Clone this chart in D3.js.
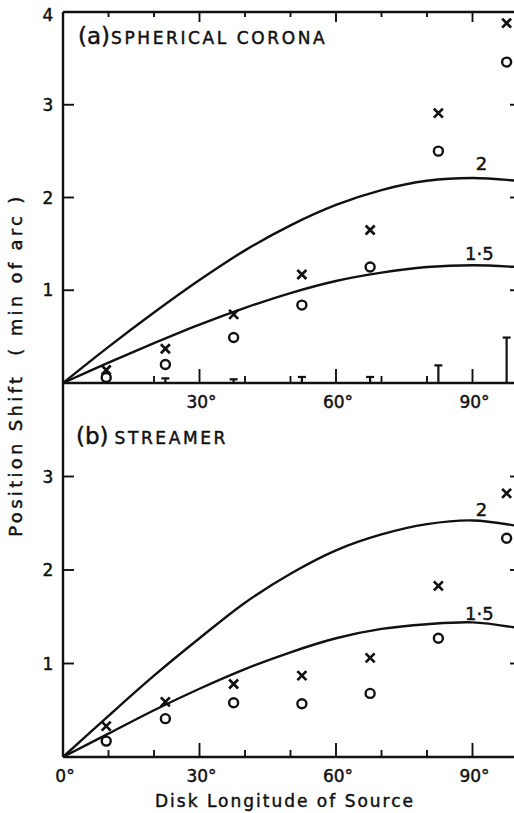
<!DOCTYPE html>
<html>
<head>
<meta charset="utf-8">
<script src="https://cdn.jsdelivr.net/npm/d3@7"></script>
<style>
  html, body { margin: 0; padding: 0; background: #fff; }
  svg { display: block; font-family: "DejaVu Sans", sans-serif; }
</style>
</head>
<body>
<svg id="chart" width="514" height="813"></svg>
<script>
// Observed source longitudes (degrees) and measured position shifts (min of arc)
const longitudes = [9.5, 22.5, 37.5, 52.5, 67.5, 82.5, 97.5];
const coronaCross = [0.14, 0.37, 0.74, 1.17, 1.65, 2.91, 3.88];
const coronaCircle = [0.06, 0.20, 0.49, 0.84, 1.25, 2.50, 3.46];
const coronaError = [0.03, 0.05, 0.04, 0.065, 0.065, 0.19, 0.49];
const streamerCross = [0.33, 0.59, 0.78, 0.87, 1.06, 1.83, 2.82];
const streamerCircle = [0.17, 0.41, 0.58, 0.57, 0.68, 1.27, 2.34];

// Model curves for the two density exponents
const curveLongitudes = [0, 10, 20, 30, 40, 50, 60, 70, 80, 90, 100];
const coronaModel2 = [0, 0.39, 0.76, 1.11, 1.43, 1.70, 1.92, 2.08, 2.18, 2.21, 2.18];
const coronaModel15 = [0, 0.22, 0.43, 0.63, 0.81, 0.97, 1.10, 1.19, 1.25, 1.27, 1.25];
const streamerModel2 = [0, 0.44, 0.87, 1.27, 1.65, 1.96, 2.21, 2.38, 2.49, 2.53, 2.47];
const streamerModel15 = [0, 0.25, 0.50, 0.73, 0.94, 1.12, 1.27, 1.37, 1.42, 1.44, 1.38];

const xTicks = [10, 20, 30, 40, 50, 60, 70, 80, 90];
const majorTicks = [30, 60, 90];
const yTicks = [1, 2, 3];

const svg = d3.select("#chart");
const ink = "#111";

const x = d3.scaleLinear().domain([0, 100]).range([63, 518]);

const panels = [
  { title: "SPHERICAL CORONA", tag: "(a)", y: d3.scaleLinear().domain([0, 4]).range([383, 12]),
    cross: coronaCross, circle: coronaCircle, error: coronaError,
    m2: coronaModel2, m15: coronaModel15, topFrame: true, labelZero: false },
  { title: "STREAMER", tag: "(b)", y: d3.scaleLinear().domain([0, 4]).range([757, 383]),
    cross: streamerCross, circle: streamerCircle, error: null,
    m2: streamerModel2, m15: streamerModel15, topFrame: false, labelZero: true }
];

// heavier lettering: fill plus a thin matching stroke
function lettering(sel) {
  return sel.attr("fill", ink).attr("stroke", ink).attr("stroke-width", 0.45);
}

panels.forEach((p, pi) => {
  const y = p.y;
  const g = svg.append("g");
  const y0 = y(0), yTop = y(4);

  // frame: left, bottom, right, top
  g.append("line").attr("x1", x(0)).attr("x2", x(0)).attr("y1", yTop).attr("y2", y0)
    .attr("stroke", ink).attr("stroke-width", 2.4);
  g.append("line").attr("x1", x(0)).attr("x2", x(100)).attr("y1", y0).attr("y2", y0)
    .attr("stroke", ink).attr("stroke-width", 2.4);
  g.append("line").attr("x1", x(100)).attr("x2", x(100)).attr("y1", yTop).attr("y2", y0)
    .attr("stroke", ink).attr("stroke-width", 2.4);
  if (p.topFrame) {
    g.append("line").attr("x1", x(0)).attr("x2", x(100)).attr("y1", yTop).attr("y2", yTop)
      .attr("stroke", ink).attr("stroke-width", 2.4);
    // downward ticks on the top frame
    g.selectAll(".tt").data(xTicks).enter().append("line")
      .attr("x1", d => x(d)).attr("x2", d => x(d))
      .attr("y1", yTop).attr("y2", d => yTop + (majorTicks.includes(d) ? 10 : 5))
      .attr("stroke", ink).attr("stroke-width", 1.9);
  }

  // upward ticks on the bottom axis
  g.selectAll(".bt").data(xTicks).enter().append("line")
    .attr("x1", d => x(d)).attr("x2", d => x(d))
    .attr("y1", y0).attr("y2", d => y0 - (majorTicks.includes(d) ? 14 : 7))
    .attr("stroke", ink).attr("stroke-width", 1.9);

  // x tick labels
  const xLabels = p.labelZero ? [0, 30, 60, 90] : [30, 60, 90];
  lettering(g.selectAll(".xl").data(xLabels).enter().append("text")
    .attr("x", d => x(d) + 2).attr("y", y0 + 25)
    .attr("text-anchor", "middle").attr("font-size", 17))
    .text(d => d + "°");

  // y ticks (left inward, right inward) and labels
  g.selectAll(".yl").data(yTicks).enter().append("line")
    .attr("x1", x(0)).attr("x2", x(0) + 11).attr("y1", d => y(d)).attr("y2", d => y(d))
    .attr("stroke", ink).attr("stroke-width", 1.9);
  g.selectAll(".yr").data(yTicks).enter().append("line")
    .attr("x1", x(100)).attr("x2", x(100) - 8).attr("y1", d => y(d)).attr("y2", d => y(d))
    .attr("stroke", ink).attr("stroke-width", 1.9);
  const yLabels = p.topFrame ? [1, 2, 3, 4] : yTicks;
  lettering(g.selectAll(".ytl").data(yLabels).enter().append("text")
    .attr("x", 48).attr("y", d => y(d) + 6 + (d === 4 ? 3 : 0))
    .attr("text-anchor", "middle").attr("font-size", 17))
    .text(d => d);

  // model curves
  const line = d3.line().x((d, i) => x(curveLongitudes[i])).y(d => y(d)).curve(d3.curveCatmullRom);
  [p.m2, p.m15].forEach(m => {
    g.append("path").attr("d", line(m)).attr("fill", "none")
      .attr("stroke", ink).attr("stroke-width", 2.4);
  });
  const peak2 = d3.max(p.m2), peak15 = d3.max(p.m15);
  lettering(g.append("text").attr("x", x(92)).attr("y", y(peak2) - (pi === 0 ? 8 : 4))
    .attr("text-anchor", "middle").attr("font-size", 18)).text("2");
  lettering(g.append("text").attr("x", x(91.5)).attr("y", y(peak15) - (pi === 0 ? 5 : 2))
    .attr("text-anchor", "middle").attr("font-size", 18)).text("1·5");

  // error bars rising from the baseline
  if (p.error) {
    longitudes.forEach((lon, i) => {
      const cx = x(lon), top = y(p.error[i]);
      g.append("line").attr("x1", cx).attr("x2", cx).attr("y1", y0).attr("y2", top)
        .attr("stroke", ink).attr("stroke-width", 2.2);
      g.append("line").attr("x1", cx - 4).attr("x2", cx + 4).attr("y1", top).attr("y2", top)
        .attr("stroke", ink).attr("stroke-width", 2.2);
    });
  }

  // circle markers
  g.selectAll(".circ").data(p.circle).enter().append("circle")
    .attr("cx", (d, i) => x(longitudes[i])).attr("cy", d => y(d)).attr("r", 4.5)
    .attr("fill", "#fff").attr("stroke", ink).attr("stroke-width", 2.4);

  // cross markers
  const s = 4.5;
  p.cross.forEach((v, i) => {
    const cx = x(longitudes[i]), cy = y(v);
    g.append("path")
      .attr("d", `M${cx - s},${cy - s}L${cx + s},${cy + s}M${cx - s},${cy + s}L${cx + s},${cy - s}`)
      .attr("stroke", ink).attr("stroke-width", 2.7).attr("fill", "none");
  });

  // panel title
  const t = lettering(g.append("text").attr("x", pi === 0 ? 78 : 76).attr("y", pi === 0 ? 44 : y(4) + 61));
  t.append("tspan").attr("font-size", 23).text(p.tag);
  t.append("tspan").attr("font-size", 17).attr("letter-spacing", 2.6)
    .attr("dx", pi === 0 ? 1 : 6).text(p.title);
});

// axis titles
lettering(svg.append("text").attr("x", 285).attr("y", 807)
  .attr("text-anchor", "middle").attr("font-size", 17).attr("letter-spacing", 2))
  .text("Disk Longitude of Source");

lettering(svg.append("text")
  .attr("transform", "translate(22,365) rotate(-90)")
  .attr("text-anchor", "middle").attr("font-size", 18).attr("letter-spacing", 3.3)
  .attr("xml:space", "preserve"))
  .text("Position Shift  ( min of arc )");
</script>
</body>
</html>
